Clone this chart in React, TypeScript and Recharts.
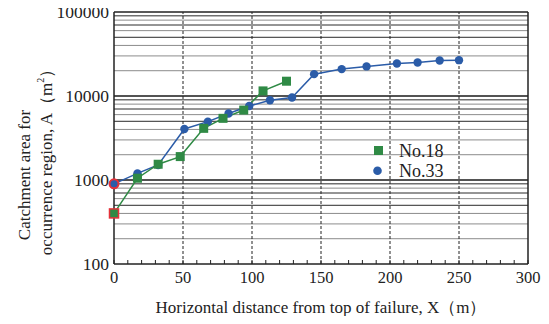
import React from 'react';
import { ComposedChart, Line, XAxis, YAxis, ReferenceLine, Legend, Label } from 'recharts';

// distance from top of failure (m) / catchment area (m2)
const no18X = [0, 17, 32, 48, 65, 79, 94, 108, 125];
const no18A = [400, 1050, 1540, 1900, 4120, 5420, 6800, 11500, 15000];
const no33X = [0, 17, 32, 51, 68, 83, 98, 113, 129, 145, 165, 183, 205, 220, 236, 250];
const no33A = [900, 1200, 1510, 4050, 4950, 6200, 7600, 8900, 9600, 18200, 20900, 22500, 24400, 25100, 26500, 26700];

const xLabelTicks = [0, 50, 100, 150, 200, 250, 300];
const xMinorTicks = [0, 10, 20, 30, 40, 50, 60, 70, 80, 90, 100, 110, 120, 130, 140, 150, 160, 170, 180, 190, 200, 210, 220, 230, 240, 250, 260, 270, 280, 290, 300];
const yTicks = [100, 1000, 10000, 100000];
const decades = [100, 1000, 10000];
const multiples = [2, 3, 4, 5, 6, 7, 8, 9];
const dashedX = [50, 100, 150, 200, 250];

const GREEN = '#2f8a45';
const BLUE = '#2b5ca8';
const RED = '#e5323a';
const FONT = '"Liberation Serif", "Times New Roman", serif';

const no18 = no18X.map((x, i) => ({ x, a: no18A[i] }));
const no33 = no33X.map((x, i) => ({ x, a: no33A[i] }));

const BottomTick = (props: any) => {
  const { x, y, payload } = props;
  return (
    <g>
      <line x1={x} x2={x} y1={y} y2={y - 4} stroke="#222" strokeWidth={1} />
      {xLabelTicks.includes(payload.value) && (
        <text x={x} y={y + 19} textAnchor="middle" fontSize={16.5} fontFamily={FONT} fill="#222">
          {payload.value}
        </text>
      )}
    </g>
  );
};

const TopTick = (props: any) => {
  const { x, y } = props;
  return <line x1={x} x2={x} y1={y} y2={y + 4} stroke="#222" strokeWidth={1} />;
};

const LeftTick = (props: any) => {
  const { x, y, payload } = props;
  return (
    <text x={x - 5} y={y} dy={6} textAnchor="end" fontSize={17.5} fontFamily={FONT} fill="#222">
      {payload.value}
    </text>
  );
};

const GreenDot = (props: any) => {
  const { cx, cy, index } = props;
  if (cx == null || cy == null) return null;
  return (
    <rect
      key={`g-${index}`}
      x={cx - 4.5}
      y={cy - 4.5}
      width={9}
      height={9}
      fill={GREEN}
      stroke={index === 0 ? RED : 'none'}
      strokeWidth={index === 0 ? 1.5 : 0}
    />
  );
};

const BlueDot = (props: any) => {
  const { cx, cy, index } = props;
  if (cx == null || cy == null) return null;
  return (
    <circle
      key={`b-${index}`}
      cx={cx}
      cy={cy}
      r={index === 0 ? 4.5 : 4.2}
      fill={BLUE}
      stroke={index === 0 ? RED : 'none'}
      strokeWidth={index === 0 ? 2 : 0}
    />
  );
};

const LegendBox = () => (
  <svg width={100} height={46}>
    <rect x={6} y={8} width={9} height={9} fill={GREEN} />
    <text x={31} y={18.7} fontSize={18} fontFamily={FONT} fill="#222">No.18</text>
    <circle cx={9.5} cy={32.8} r={4.3} fill={BLUE} />
    <text x={31} y={38.7} fontSize={18} fontFamily={FONT} fill="#222">No.33</text>
  </svg>
);

const YLabel = () => {
  const x1 = 24;
  const y1 = 175;
  const x2 = 46;
  const y2 = 158;
  return (
    <g fontFamily={FONT} fontSize={17} fill="#222">
      <text x={x1} y={y1} textAnchor="middle" dominantBaseline="central" transform={`rotate(-90, ${x1}, ${y1})`}>
        Catchment area for
      </text>
      <text x={x2} y={y2} textAnchor="middle" dominantBaseline="central" transform={`rotate(-90, ${x2}, ${y2})`}>
        occurrence region, A（m<tspan dy={-6} fontSize={10}>2</tspan><tspan dy={6}>）</tspan>
      </text>
    </g>
  );
};

const XLabel = (props: any) => {
  const { viewBox } = props;
  const cx = viewBox.x + viewBox.width / 2;
  return (
    <text x={cx} y={313} textAnchor="middle" fontSize={17} fontFamily={FONT} fill="#222">
      Horizontal distance from top of failure, X（m）
    </text>
  );
};

export default function App() {
  const gridLines = decades.flatMap((d) => multiples.map((m) => ({ v: d * m, dark: m === 5 || m === 7 || m === 9 })));
  return (
    <div style={{ margin: -8, width: 549, height: 324, background: '#fff' }}>
      <ComposedChart width={549} height={324} margin={{ top: 12, right: 21, left: 0, bottom: 0 }}>
        <XAxis
          dataKey="x"
          type="number"
          domain={[0, 300]}
          ticks={xMinorTicks}
          interval={0}
          height={60}
          tickSize={0}
          tickMargin={0}
          tick={<BottomTick />}
          axisLine={{ stroke: '#222', strokeWidth: 1.5 }}
          tickLine={false}
        >
          <Label content={<XLabel />} />
        </XAxis>
        <XAxis
          xAxisId="top"
          orientation="top"
          dataKey="x"
          type="number"
          domain={[0, 300]}
          ticks={xMinorTicks}
          interval={0}
          height={0}
          tickSize={0}
          tickMargin={0}
          tick={<TopTick />}
          axisLine={false}
          tickLine={false}
        />
        <YAxis
          type="number"
          scale="log"
          domain={[100, 100000]}
          ticks={yTicks}
          interval={0}
          width={114}
          tickSize={0}
          tickMargin={0}
          tick={<LeftTick />}
          axisLine={{ stroke: '#222', strokeWidth: 1.5 }}
          tickLine={false}
          label={<YLabel />}
        />
        {gridLines.map((g) => (
          <ReferenceLine key={`h-${g.v}`} y={g.v} stroke={g.dark ? '#2a2a2a' : '#8c8c8c'} strokeWidth={1} />
        ))}
        <ReferenceLine y={1000} stroke="#1a1a1a" strokeWidth={1.3} />
        <ReferenceLine y={10000} stroke="#1a1a1a" strokeWidth={1.3} />
        <ReferenceLine y={100000} stroke="#222" strokeWidth={1.5} />
        {dashedX.map((v) => (
          <ReferenceLine key={`v-${v}`} x={v} stroke="#222" strokeWidth={1} strokeDasharray="3 2" />
        ))}
        <ReferenceLine x={300} stroke="#222" strokeWidth={1.5} />
        <Line
          data={no33}
          dataKey="a"
          name="No.33"
          stroke={BLUE}
          strokeWidth={1.5}
          dot={BlueDot}
          activeDot={false}
          isAnimationActive={false}
        />
        <Line
          data={no18}
          dataKey="a"
          name="No.18"
          stroke={GREEN}
          strokeWidth={1.5}
          dot={GreenDot}
          activeDot={false}
          isAnimationActive={false}
        />
        <Legend
          layout="vertical"
          align="center"
          verticalAlign="middle"
          content={<LegendBox />}
          wrapperStyle={{ position: 'absolute', left: 368, top: 138, width: 100, height: 46 }}
        />
      </ComposedChart>
    </div>
  );
}
